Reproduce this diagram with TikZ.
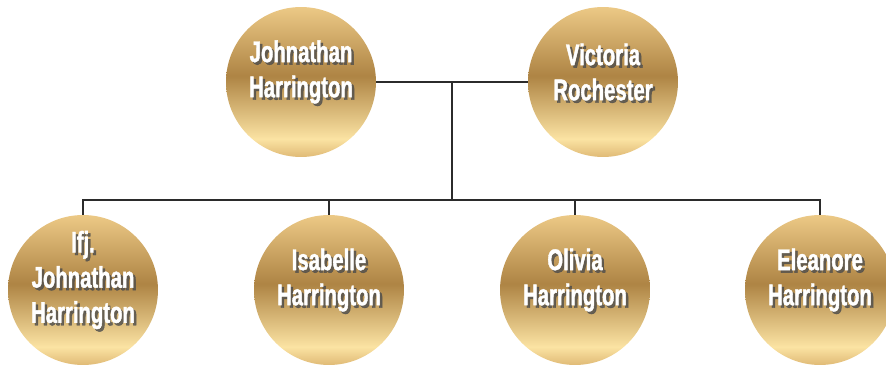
\documentclass[tikz,border=0pt]{standalone}
\usepackage{fontspec}
\usetikzlibrary{calc}
\newfontfamily\namefont{Liberation Sans}[FakeStretch=0.68,BoldFeatures={FakeBold=1.3}]
\definecolor{goldtop}{HTML}{ECC986}
\definecolor{golddark}{HTML}{AE8444}
\definecolor{goldlight}{HTML}{FBE3A3}
\definecolor{goldbottom}{HTML}{E0BA76}
\definecolor{linegray}{HTML}{2B2B2B}
\pgfdeclareverticalshading{gold}{100bp}{color(0bp)=(goldbottom); color(25bp)=(goldbottom);
  color(31bp)=(goldlight); color(52bp)=(golddark); color(75bp)=(goldtop); color(100bp)=(goldtop)}
\tikzset{
  disc/.style={circle,minimum size=3cm,inner sep=0pt,shading=gold},
  nametext/.style={font=\namefont\bfseries\fontsize{17}{20}\selectfont,text=white,align=center},
  shadowtext/.style={nametext,text=black!70,opacity=0.8},
  link/.style={line width=1.4pt,color=linegray}
}
\begin{document}
\begin{tikzpicture}[x=0.02cm,y=0.02cm]
\useasboundingbox (0,0) rectangle (886,365);
\clip (0,0) rectangle (886,365);
% parents and children
\foreach \n/\x/\y/\t in {jh/301/283/{Johnathan\\Harrington},vr/603/283/{Victoria\\Rochester},
    ij/83/75/{Ifj.\\Johnathan\\Harrington},ih/329/75/{Isabelle\\Harrington},
    oh/575/75/{Olivia\\Harrington},eh/820/75/{Eleanore\\Harrington}}{
  \node[disc] (\n) at (\x,\y) {};
  \node[shadowtext] at ([shift={(2.5,7.5)}]\n) {\t};
  \node[nametext] at ([shift={(0,10)}]\n) {\t};
}
% connectors
\coordinate (mid) at ($(jh)!0.5!(vr)$);
\coordinate (bus) at (mid |- 0,165);
\draw[link] (jh) -- (vr);
\draw[link] (mid) -- (bus);
\draw[link] (ij.north) |- (bus) -| (eh.north);
\draw[link] (ih.north) -- (ih |- bus);
\draw[link] (oh.north) -- (oh |- bus);
\end{tikzpicture}
\end{document}
